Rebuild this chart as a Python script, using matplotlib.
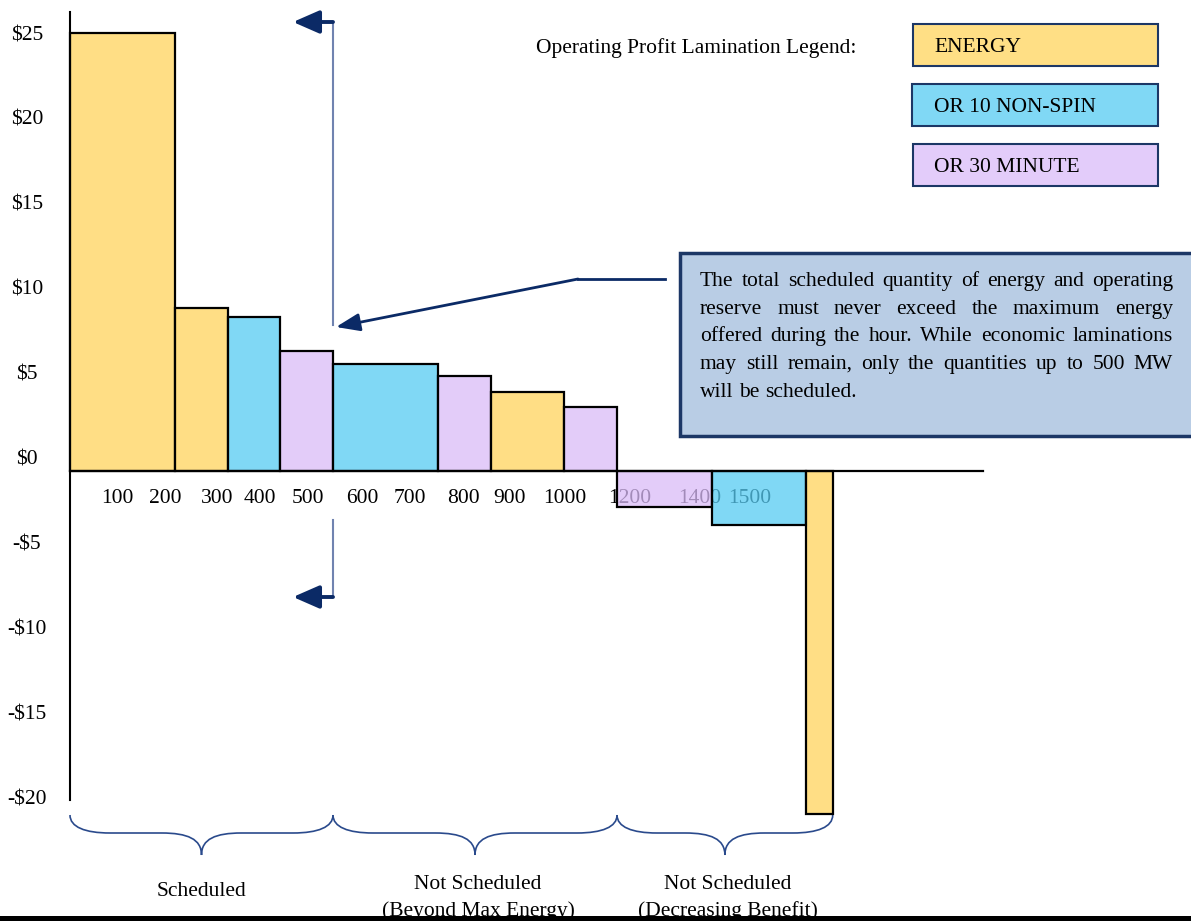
import matplotlib
matplotlib.use('Agg')
import matplotlib.pyplot as plt
import matplotlib.transforms as mtransforms
from matplotlib.patches import Rectangle, PathPatch
from matplotlib.path import Path
from matplotlib.colors import to_rgb

# ---------------- data ----------------
edges_mw = [0, 200, 300, 400, 500, 700, 800, 940, 1040, 1220, 1400, 1450]
profit = [25, 9.3, 8.8, 6.85, 6.1, 5.4, 4.5, 3.65, -2.05, -3.08, -19.6]
product = ['ENERGY', 'ENERGY', 'OR 10 NON-SPIN', 'OR 30 MINUTE', 'OR 10 NON-SPIN',
           'OR 30 MINUTE', 'ENERGY', 'OR 30 MINUTE', 'OR 30 MINUTE',
           'OR 10 NON-SPIN', 'ENERGY']
product_names = ['ENERGY', 'OR 10 NON-SPIN', 'OR 30 MINUTE']
y_labels = ['$25', '$20', '$15', '$10', '$5', '$0', '-$5', '-$10', '-$15', '-$20']
x_labels = ['100', '200', '300', '400', '500', '600', '700', '800', '900', '1000',
            '1200', '1400', '1500']
section_bounds_mw = [0, 500, 1040, 1450]
section_labels = ['Scheduled', 'Not Scheduled\n(Beyond Max Energy)',
                  'Not Scheduled\n(Decreasing Benefit)']
scheduled_limit_mw = 500
legend_title = 'Operating Profit Lamination Legend:'
callout_lines = ['The total scheduled quantity of energy and operating',
                 'reserve must never exceed the maximum energy',
                 'offered during the hour.  While economic laminations',
                 'may still remain, only the quantities up to 500 MW',
                 'will be scheduled.']

# ---------------- style / layout ----------------
W, H = 1191, 921
FONT = 'Liberation Serif'
FS = 15.5
TY = 2.5          # vertical text offset (pixels)
NAVY = '#0b2a66'
ALPHA = 0.75
shown = {'ENERGY': '#ffdf85', 'OR 10 NON-SPIN': '#80d8f5', 'OR 30 MINUTE': '#e3ccfa'}


def under_colour(hexc):
    r = to_rgb(hexc)
    return tuple(max(0.0, (c - (1 - ALPHA)) / ALPHA) for c in r) + (ALPHA,)


X0PX, XS = 70, 0.526     # pixel of 0 MW, pixels per MW
Y0PX, YS = 471, 17.52    # pixel of $0, pixels per $

fig = plt.figure(figsize=(W / 100, H / 100), dpi=100)
ax = fig.add_axes([0, 0, 1, 1])
ax.axis('off')
ax.set_xlim(-X0PX / XS, (W - X0PX) / XS)
ax.set_ylim((Y0PX - H) / YS, Y0PX / YS)

pix = mtransforms.Affine2D().scale(1, -1).translate(0, H)


def px_x(mw):
    return X0PX + XS * mw


def dy(py):
    return (Y0PX - py) / YS


def dx(px):
    return (px - X0PX) / XS


def ptext(x, y, s, **kw):
    kw.setdefault('ha', 'center')
    kw.setdefault('va', 'center')
    return ax.text(x, y + TY, s, transform=pix, fontsize=FS, family=FONT, **kw)


# bars
lefts = edges_mw[:-1]
widths = [b - a for a, b in zip(edges_mw[:-1], edges_mw[1:])]
ax.bar(lefts, profit, width=widths, align='edge',
       color=[under_colour(shown[p]) for p in product],
       edgecolor='black', linewidth=1.6, zorder=3)

# axes lines
ax.plot([0, 0], [dy(12), dy(800)], color='black', lw=1.5, zorder=4)
ax.plot([0, dx(983)], [0, 0], color='black', lw=1.6, zorder=4)

# tick labels
for i, lab in enumerate(y_labels):
    ptext(27, 33 + i * 84.9, lab, zorder=1)
x_label_px = [117, 165, 217, 260, 308, 362, 410, 463, 510, 565, 630, 700, 750]
for lab, xp in zip(x_labels, x_label_px):
    ptext(xp, 496, lab, zorder=1)

# scheduled-limit bracket arrows
xl = scheduled_limit_mw
ax.plot([xl, xl], [dy(22), dy(325)], color='#7083b0', lw=1.5, zorder=4)
ax.plot([xl, xl], [dy(520), dy(597)], color='#7083b0', lw=1.5, zorder=4)
for py in (22, 597):
    ax.annotate('', xy=(dx(293), dy(py)), xytext=(xl, dy(py)),
                arrowprops=dict(arrowstyle='-|>,head_length=0.8,head_width=0.35',
                                mutation_scale=20, lw=2.8, color=NAVY,
                                shrinkA=0, shrinkB=0), zorder=5)

# callout pointer
ax.plot([665, 578], [279, 279], transform=pix, color=NAVY, lw=2, zorder=5)
ax.annotate('', xy=(dx(336), dy(327)), xytext=(dx(578), dy(279)),
            arrowprops=dict(arrowstyle='-|>,head_length=0.8,head_width=0.3',
                            mutation_scale=18, lw=2, color=NAVY,
                            shrinkA=0, shrinkB=0), zorder=5)

# callout box
ax.add_patch(Rectangle((680, 253), 530, 183, transform=pix, facecolor='#b9cde5',
                       edgecolor='#1c3766', lw=2.5, zorder=5, clip_on=False))
fig.canvas.draw()
renderer = fig.canvas.get_renderer()
line_y = [279, 307, 334, 362, 390]
LX0, LX1 = 700, 1173
sp = ax.text(0, 0, 'a a', fontsize=FS, family=FONT)
sp2 = ax.text(0, 0, 'aa', fontsize=FS, family=FONT)
space_w = sp.get_window_extent(renderer).width - sp2.get_window_extent(renderer).width
sp.remove()
sp2.remove()
for k, (line, yp) in enumerate(zip(callout_lines, line_y)):
    words = line.split()
    texts = [ptext(0, yp, w, ha='left', zorder=6) for w in words]
    wids = [t.get_window_extent(renderer).width for t in texts]
    if k < len(callout_lines) - 1 and len(words) > 1:
        gap = (LX1 - LX0 - sum(wids)) / (len(words) - 1)
    else:
        gap = space_w
    x = LX0
    for t, w in zip(texts, wids):
        t.set_x(x)
        x += w + gap

# legend
ptext(696, 46, legend_title)
legend_boxes = [(913, 24), (912, 84), (913, 144)]
for name, (bx, by) in zip(product_names, legend_boxes):
    ax.add_patch(Rectangle((bx, by), 1158 - bx, 42, transform=pix,
                           facecolor=shown[name], edgecolor='#1c3766', lw=1.5))
    ptext(934, by + 21, name, ha='left')


# braces
def brace(xa, xb, ytop=815, ymid=833, ytip=855):
    xm = (xa + xb) / 2
    verts = [(xa, ytop), (xa, ymid - 6), (xa + 15, ymid), (xa + 40, ymid),
             (xm - 40, ymid),
             (xm - 14, ymid), (xm, ymid + 6), (xm, ytip),
             (xm, ymid + 6), (xm + 14, ymid), (xm + 40, ymid),
             (xb - 40, ymid),
             (xb - 15, ymid), (xb, ymid - 6), (xb, ytop)]
    codes = [Path.MOVETO, Path.CURVE4, Path.CURVE4, Path.CURVE4,
             Path.LINETO,
             Path.CURVE4, Path.CURVE4, Path.CURVE4,
             Path.CURVE4, Path.CURVE4, Path.CURVE4,
             Path.LINETO,
             Path.CURVE4, Path.CURVE4, Path.CURVE4]
    ax.add_patch(PathPatch(Path(verts, codes), transform=pix, facecolor='none',
                           edgecolor='#2a4a8c', lw=1.2))
    return xm


for a, b, lab in zip(section_bounds_mw[:-1], section_bounds_mw[1:], section_labels):
    xm = brace(px_x(a), px_x(b))
    parts = lab.split('\n')
    if len(parts) == 1:
        ptext(xm, 889, parts[0])
    else:
        ptext(xm + 3, 882, parts[0])
        ptext(xm + 3, 909, parts[1])

# bottom rule
ax.add_patch(Rectangle((0, 916), W, 6, transform=pix, facecolor='black',
                       edgecolor='none', zorder=10, clip_on=False))

fig.savefig('out.png', dpi=100)
